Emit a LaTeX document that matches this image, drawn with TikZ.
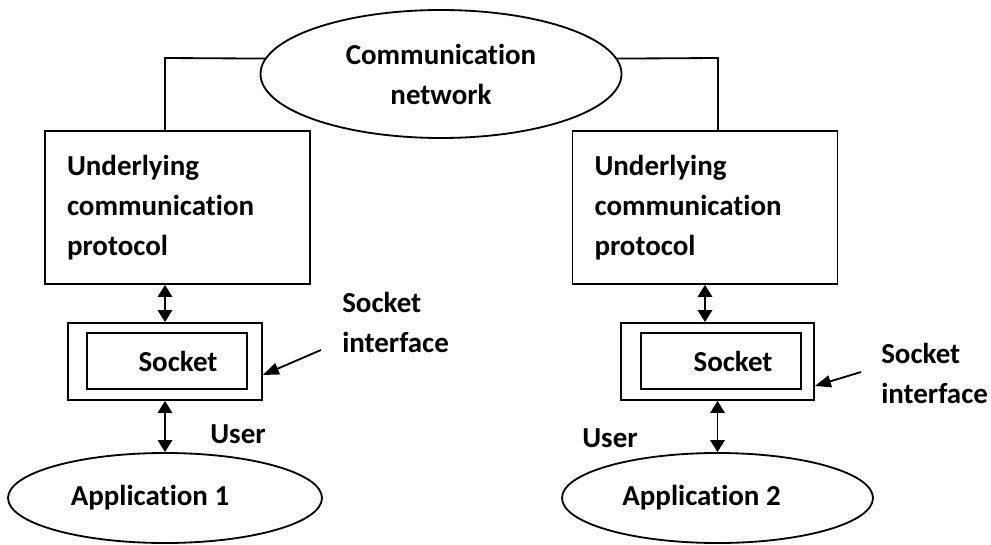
\documentclass[tikz,border=0pt]{standalone}
\usepackage{fontspec}
\setmainfont{Carlito}[Ligatures=NoCommon]
\usepackage{tikz}
\usetikzlibrary{shapes.geometric, arrows.meta, positioning, calc}

\begin{document}
\begin{tikzpicture}[
  every node/.style = {font=\fontsize{20.6}{28.45}\selectfont\bfseries},
  oval/.style = {
    ellipse, draw, line width=1.3pt, inner sep=2pt,
    minimum width=#1, minimum height=2.25cm
  },
  proto/.style = {
    rectangle, draw, line width=1.3pt,
    text width=5.525cm, inner xsep=0.55cm, align=left,
    minimum height=3.825cm
  },
  sockout/.style = {
    rectangle, draw, line width=1.3pt,
    minimum width=4.85cm, minimum height=1.925cm
  },
  sockin/.style = {
    rectangle, draw, line width=1.3pt,
    minimum width=4.0cm, minimum height=1.4cm
  },
  wire/.style = {line width=1.3pt},
  dbl/.style  = {{Triangle[length=0.3cm, width=0.36cm]}-{Triangle[length=0.3cm, width=0.36cm]},
                 line width=1.3pt},
  arr/.style  = {-{Triangle[length=0.4cm, width=0.3cm]}, line width=1.3pt},
  lbl/.style  = {align=left, inner sep=0pt}
]
\useasboundingbox (0,0) rectangle (24.775,-13.6);

%% ── Network on top ─────────────────────────────────────────────────────────
\node[oval=9.025cm, minimum height=3.2cm, align=center]
  (net) at (11.025, -1.85) {Communication\\network};

%% ── Protocol boxes ────────────────────────────────────────────────────────
\node[proto] (lproto) at ( 4.4375, -5.1875) {Underlying\\communication\\protocol};
\node[proto] (rproto) at (17.625,  -5.1875) {Underlying\\communication\\protocol};

\coordinate (lknee) at ( 4.125, -1.45);
\coordinate (rknee) at (17.95,  -1.45);

\draw[wire] (net.175) -- (lknee) -- (lknee |- lproto.north);
\draw[wire] (net.5)   -- (rknee) -- (rknee |- rproto.north);

%% ── Sockets ───────────────────────────────────────────────────────────────
\node[sockout] (sockl)  at ( 4.125,  -9.0375) {};
\node[sockin]  (sinl)   at ( 4.175,  -9.025)  {\hspace*{0.55cm}Socket};
\node[sockout, minimum width=4.825cm]
               (sockr)  at (17.9375, -9.0375) {};
\node[sockin]  (sinr)   at (18.025,  -9.025)  {\hspace*{0.6cm}Socket};

\draw[dbl] (sockl.north |- lproto.south) -- (sockl.north);
\draw[dbl] (rproto.south) -- (rproto.south |- sockr.north);

%% ── Applications ──────────────────────────────────────────────────────────
\node[oval=7.85cm]  (app1) at ( 4.125,  -12.45) {Application 1\hspace*{0.75cm}};
\node[oval=7.775cm] (app2) at (17.9375, -12.45) {Application 2\hspace*{0.8cm}};

\draw[dbl] (sockl.south) -- (app1.north);
\draw[dbl] (app2.north |- sockr.south) -- (app2.north);

\node[lbl, anchor=base west] (luser) at ( 5.25, -11.075) {User};
\node[lbl, anchor=base west] (ruser) at (14.55, -11.175) {User};

%% ── Socket interface labels ───────────────────────────────────────────────
\node[lbl, anchor=west] (lsi) at ( 8.55,  -8.05)  {Socket\\interface};
\node[lbl, anchor=west] (rsi) at (22.025, -9.325) {Socket\\interface};

\coordinate (ltail) at ( 8.025, -8.75);
\coordinate (rtail) at (21.525, -9.3);

\draw[arr] (ltail) -- ([yshift=-0.3375cm]sockl.east);
\draw[arr] (rtail) -- ([yshift=-0.6125cm]sockr.east);

\end{tikzpicture}
\end{document}
